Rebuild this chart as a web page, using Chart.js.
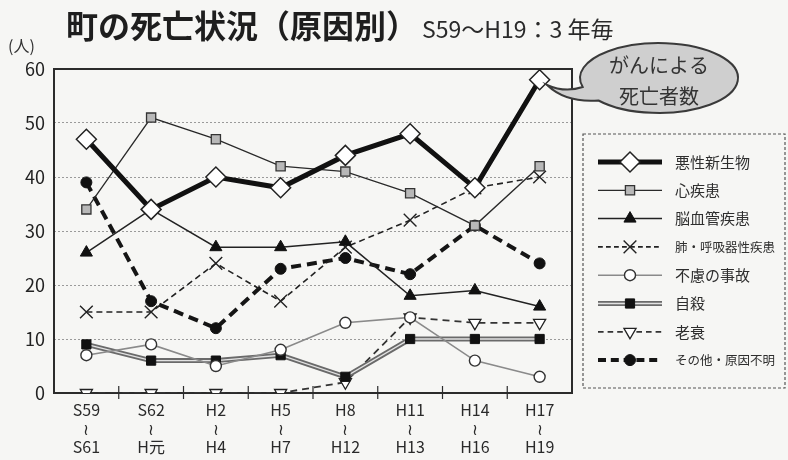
<!DOCTYPE html>
<html lang="ja">
<head>
<meta charset="utf-8">
<script src="https://cdn.jsdelivr.net/npm/chart.js@4.4.1/dist/chart.umd.min.js"></script>
<style>
html, body { margin: 0; padding: 0; background: #f6f6f4; }
#wrap { position: relative; width: 788px; height: 460px; }
#title { position: absolute; left: 66px; top: 8px; font-family: "Noto Sans CJK JP", sans-serif; font-weight: bold; font-size: 32px; line-height: 1; color: #1e1e1e; white-space: nowrap; }
#title span { font-weight: normal; font-size: 23px; margin-left: 4px; color: #2a2a2a; }
#unit { position: absolute; left: 8px; top: 37px; font-family: "Noto Sans CJK JP", sans-serif; font-size: 16px; line-height: 1; color: #333; }
</style>
</head>
<body>
<div id="wrap">
  <canvas id="deathChart" width="788" height="460"></canvas>
  <div id="title">町の死亡状況（原因別）<span>S59～H19：3 年毎</span></div>
  <div id="unit">(人)</div>
</div>
<script>
// periods (3-year blocks)
var categories = [
  ['S59', '≀', 'S61'], ['S62', '≀', 'H元'], ['H2', '≀', 'H4'], ['H5', '≀', 'H7'],
  ['H8', '≀', 'H12'], ['H11', '≀', 'H13'], ['H14', '≀', 'H16'], ['H17', '≀', 'H19']
];
var seriesNames = ['悪性新生物', '心疾患', '脳血管疾患', '肺・呼吸器性疾患', '不慮の事故', '自殺', '老衰', 'その他・原因不明'];

var cancer   = [47, 34, 40, 38, 44, 48, 38, 58];
var heart    = [34, 51, 47, 42, 41, 37, 31, 42];
var stroke   = [26, 34, 27, 27, 28, 18, 19, 16];
var lung     = [15, 15, 24, 17, 27, 32, 38, 40];
var accident = [7, 9, 5, 8, 13, 14, 6, 3];
var suicide  = [9, 6, 6, 7, 3, 10, 10, 10];
var oldAge   = [0, 0, 0, 0, 2, 14, 13, 13];
var other    = [39, 17, 12, 23, 25, 22, 31, 24];

var yMin = 0, yMax = 60, yStep = 10;
var bubbleLines = ['がんによる', '死亡者数'];

Chart.defaults.font.family = '"Noto Sans CJK JP", sans-serif';
Chart.defaults.color = '#2a2a2a';

var datasets = [
  { label: seriesNames[0], data: cancer, borderColor: '#111', borderWidth: 5,
    pointStyle: 'rectRot', pointRadius: 10, pointBackgroundColor: '#fff', pointBorderColor: '#222', pointBorderWidth: 1.5 },
  { label: seriesNames[1], data: heart, borderColor: '#2a2a2a', borderWidth: 1.3,
    pointStyle: 'rect', pointRadius: 6.5, pointBackgroundColor: '#b8b8b8', pointBorderColor: '#333', pointBorderWidth: 1.3 },
  { label: seriesNames[2], data: stroke, borderColor: '#222', borderWidth: 1.5,
    pointStyle: 'triangle', pointRadius: 7, pointBackgroundColor: '#111', pointBorderColor: '#111', pointBorderWidth: 1 },
  { label: seriesNames[3], data: lung, borderColor: '#222', borderWidth: 1.6, borderDash: [6, 4],
    pointStyle: 'crossRot', pointRadius: 9, pointBackgroundColor: '#222', pointBorderColor: '#222', pointBorderWidth: 1.4 },
  { label: seriesNames[4], data: accident, borderColor: '#8a8a8a', borderWidth: 1.6,
    pointStyle: 'circle', pointRadius: 5.5, pointBackgroundColor: '#fff', pointBorderColor: '#333', pointBorderWidth: 1.4 },
  { label: seriesNames[5], data: suicide, borderColor: '#e2e2e2', borderWidth: 1.4, doubleLine: true,
    pointStyle: 'rect', pointRadius: 6.5, pointBackgroundColor: '#111', pointBorderColor: '#111', pointBorderWidth: 1 },
  { label: seriesNames[6], data: oldAge, borderColor: '#333', borderWidth: 1.8, borderDash: [7, 5],
    pointStyle: 'triangle', pointRotation: 180, pointRadius: 7, pointBackgroundColor: '#fff', pointBorderColor: '#222', pointBorderWidth: 1.3 },
  { label: seriesNames[7], data: other, borderColor: '#151515', borderWidth: 4, borderDash: [10, 6],
    pointStyle: 'circle', pointRadius: 5.5, pointBackgroundColor: '#111', pointBorderColor: '#111', pointBorderWidth: 1 }
];
datasets.forEach(function (d) { d.fill = false; d.tension = 0; });

function drawSample(ctx, ds, x0, x1, y) {
  ctx.save();
  if (ds.doubleLine) {
    ctx.strokeStyle = '#6a6a6a'; ctx.lineWidth = 5;
    ctx.beginPath(); ctx.moveTo(x0, y); ctx.lineTo(x1, y); ctx.stroke();
  }
  ctx.strokeStyle = ds.borderColor; ctx.lineWidth = ds.borderWidth;
  ctx.setLineDash(ds.borderDash ? ds.borderDash.map(function (v) { return v * 0.8; }) : []);
  ctx.beginPath(); ctx.moveTo(x0, y); ctx.lineTo(x1, y); ctx.stroke();
  ctx.setLineDash([]);
  ctx.fillStyle = ds.pointBackgroundColor; ctx.strokeStyle = ds.pointBorderColor; ctx.lineWidth = ds.pointBorderWidth;
  Chart.helpers.drawPoint(ctx, { pointStyle: ds.pointStyle, radius: ds.pointRadius, rotation: ds.pointRotation || 0,
    borderWidth: ds.pointBorderWidth }, (x0 + x1) / 2, y);
  ctx.restore();
}

var decor = {
  id: 'decor',
  beforeDatasetsDraw: function (chart) {
    var ctx = chart.ctx, a = chart.chartArea, xs = chart.scales.x;
    ctx.save();
    ctx.strokeStyle = '#2b2b2b'; ctx.lineWidth = 2;
    ctx.strokeRect(a.left, a.top, a.right - a.left, a.bottom - a.top);
    ctx.lineWidth = 1.2;
    for (var i = 1; i < categories.length; i++) {
      var px = (xs.getPixelForValue(i - 1) + xs.getPixelForValue(i)) / 2;
      ctx.beginPath(); ctx.moveTo(px, a.bottom - 7); ctx.lineTo(px, a.bottom + 6); ctx.stroke();
    }
    ctx.restore();
  },
  beforeDatasetDraw: function (chart, args) {
    var ds = chart.data.datasets[args.index];
    if (!ds.doubleLine) return;
    var ctx = chart.ctx, pts = args.meta.data;
    ctx.save();
    ctx.strokeStyle = '#6a6a6a'; ctx.lineWidth = 5; ctx.lineJoin = 'round';
    ctx.beginPath();
    pts.forEach(function (p, i) { if (i) ctx.lineTo(p.x, p.y); else ctx.moveTo(p.x, p.y); });
    ctx.stroke();
    ctx.restore();
  },
  afterDraw: function (chart) {
    var ctx = chart.ctx;
    // legend box
    ctx.save();
    ctx.strokeStyle = '#555'; ctx.lineWidth = 1.2; ctx.setLineDash([3, 2]);
    ctx.strokeRect(583, 134, 202, 254);
    ctx.setLineDash([]);
    ctx.textBaseline = 'middle'; ctx.textAlign = 'left'; ctx.fillStyle = '#2e2e2e';
    chart.data.datasets.forEach(function (ds, i) {
      var y = 162 + i * 28.3;
      drawSample(ctx, ds, 598, 662, y);
      var longName = ds.label.length > 6;
      ctx.font = (longName ? '12.5px' : '15px') + ' "Noto Sans CJK JP", sans-serif';
      ctx.fillText(ds.label, 675, y);
    });
    // speech bubble
    var cx = 659, cy = 78, rx = 79, ry = 35;
    var a1 = 140 * Math.PI / 180, a2 = 165 * Math.PI / 180;
    ctx.beginPath();
    ctx.moveTo(547, 85);
    ctx.quadraticCurveTo(566, 103, cx + rx * Math.cos(a1), cy + ry * Math.sin(a1));
    ctx.ellipse(cx, cy, rx, ry, 0, a1, a2, true);
    ctx.quadraticCurveTo(565, 93, 547, 85);
    ctx.closePath();
    ctx.fillStyle = '#cfcfcf'; ctx.fill();
    ctx.strokeStyle = '#3a3a3a'; ctx.lineWidth = 2; ctx.stroke();
    ctx.fillStyle = '#333'; ctx.textAlign = 'center';
    ctx.font = '20px "Noto Sans CJK JP", sans-serif';
    ctx.fillText(bubbleLines[0], cx, 65);
    ctx.fillText(bubbleLines[1], cx, 96);
    ctx.restore();
  }
};

new Chart(document.getElementById('deathChart').getContext('2d'), {
  type: 'line',
  data: { labels: categories, datasets: datasets },
  plugins: [decor],
  options: {
    responsive: false,
    devicePixelRatio: 1,
    animation: false,
    layout: { padding: { top: 69, right: 216, left: 0, bottom: 0 } },
    plugins: { legend: { display: false }, tooltip: { enabled: false } },
    scales: {
      x: {
        offset: true,
        grid: { display: false, drawTicks: false },
        border: { display: false },
        ticks: { padding: 8, color: '#2a2a2a', font: { size: 16, lineHeight: 1.15 }, maxRotation: 0, autoSkip: false },
        afterFit: function (s) { s.height = 67; }
      },
      y: {
        min: yMin, max: yMax,
        grid: { color: '#9a9a9a', lineWidth: 1, drawTicks: false },
        border: { display: false, dash: [2, 2] },
        ticks: { stepSize: yStep, padding: 9, color: '#222', font: { size: 18 } },
        afterFit: function (s) { s.width = 54; }
      }
    }
  }
});
</script>
</body>
</html>
